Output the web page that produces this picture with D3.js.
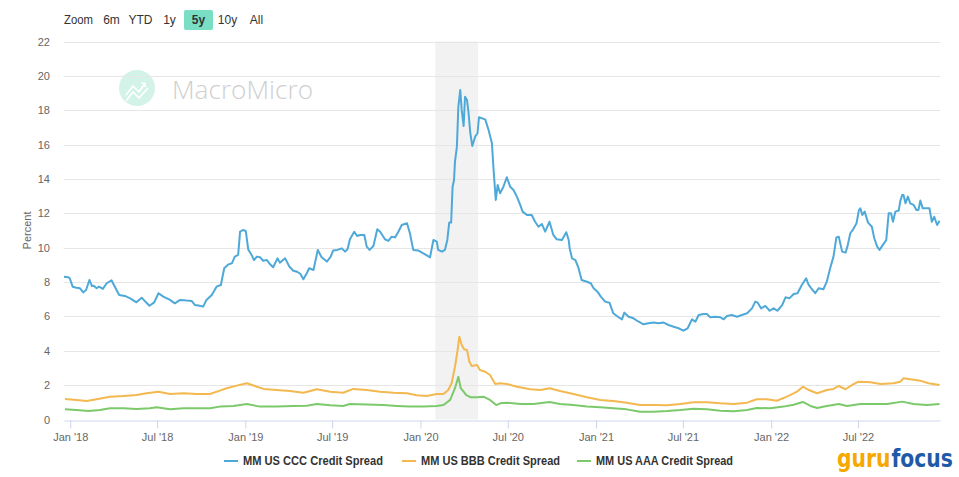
<!DOCTYPE html>
<html><head><meta charset="utf-8">
<script src="https://cdn.jsdelivr.net/npm/d3@7"></script>
<style>
html,body{margin:0;padding:0;background:#fff;}
svg{display:block;font-family:"Liberation Sans",Arial,Helvetica,sans-serif;}
</style></head>
<body><svg id="chart" width="959" height="477"></svg>
<script>
// ---------- DATA ----------
const seriesNames = ["MM US CCC Credit Spread", "MM US BBB Credit Spread", "MM US AAA Credit Spread"];
const seriesColors = ["#4fa9d8", "#f3b84f", "#7cc96c"];
const yTicks = [0,2,4,6,8,10,12,14,16,18,20,22];
const xTickDates = ["2018-01-01","2018-07-01","2019-01-01","2019-07-01","2020-01-01","2020-07-01","2021-01-01","2021-07-01","2022-01-01","2022-07-01"];
const xDomain = ["2017-12-19","2022-12-19"];
const recession = ["2020-02-01","2020-04-30"];
const zoomButtons = ["6m","YTD","1y","5y","10y","All"];
const zoomSelected = "5y";

const ccc = [
["2017-12-19",8.31],["2017-12-28",8.28],["2017-12-31",8.22],["2018-01-06",7.73],["2018-01-14",7.67],["2018-01-21",7.64],
["2018-01-28",7.40],["2018-02-03",7.54],["2018-02-10",8.12],["2018-02-15",7.77],["2018-02-19",7.79],["2018-02-25",7.64],
["2018-03-02",7.73],["2018-03-10",7.60],["2018-03-18",7.93],["2018-03-28",8.10],["2018-04-04",7.73],["2018-04-13",7.25],
["2018-04-25",7.19],["2018-05-06",7.05],["2018-05-19",6.82],["2018-05-30",7.09],["2018-06-08",6.82],["2018-06-15",6.62],
["2018-06-25",6.82],["2018-07-04",7.35],["2018-07-14",7.15],["2018-07-28",6.96],["2018-08-07",6.76],["2018-08-18",6.96],
["2018-09-01",6.92],["2018-09-11",6.90],["2018-09-18",6.66],["2018-09-28",6.62],["2018-10-05",6.57],["2018-10-12",6.96],
["2018-10-23",7.25],["2018-11-02",7.73],["2018-11-11",7.83],["2018-11-18",8.80],["2018-11-27",9.03],["2018-12-04",9.09],
["2018-12-10",9.48],["2018-12-17",9.58],["2018-12-21",10.93],["2018-12-27",11.03],["2019-01-02",10.97],["2019-01-07",9.90],
["2019-01-14",9.58],["2019-01-19",9.28],["2019-01-25",9.48],["2019-02-01",9.44],["2019-02-07",9.24],["2019-02-15",9.28],
["2019-02-21",9.05],["2019-02-28",8.86],["2019-03-09",9.38],["2019-03-14",9.13],["2019-03-25",9.38],["2019-04-03",8.89],
["2019-04-11",8.66],["2019-04-19",8.60],["2019-04-26",8.47],["2019-05-02",8.16],["2019-05-09",8.51],["2019-05-14",8.80],
["2019-05-23",8.70],["2019-06-01",9.87],["2019-06-09",9.44],["2019-06-20",9.19],["2019-06-28",9.48],["2019-07-03",9.83],
["2019-07-12",9.87],["2019-07-21",9.96],["2019-07-28",9.77],["2019-08-02",9.91],["2019-08-07",10.49],["2019-08-16",10.93],
["2019-08-22",10.68],["2019-08-28",10.74],["2019-09-06",10.74],["2019-09-11",10.06],["2019-09-17",9.87],["2019-09-25",10.10],
["2019-10-03",11.07],["2019-10-09",10.93],["2019-10-19",10.49],["2019-10-26",10.39],["2019-11-02",10.64],["2019-11-09",10.60],
["2019-11-16",10.93],["2019-11-23",11.32],["2019-12-04",11.42],["2019-12-10",10.84],["2019-12-17",9.87],["2019-12-28",9.83],
["2020-01-07",9.67],["2020-01-16",9.52],["2020-01-21",9.44],["2020-01-28",10.45],["2020-02-04",10.35],["2020-02-07",9.87],
["2020-02-15",9.77],["2020-02-21",9.87],["2020-02-26",10.45],["2020-03-01",11.46],["2020-03-05",11.46],["2020-03-08",13.55],
["2020-03-11",13.94],["2020-03-13",15.01],["2020-03-17",15.88],["2020-03-20",18.21],["2020-03-24",19.18],["2020-03-27",18.02],
["2020-03-31",17.08],["2020-04-03",18.79],["2020-04-07",18.60],["2020-04-10",17.92],["2020-04-14",16.66],["2020-04-18",15.92],
["2020-04-24",16.46],["2020-04-29",16.66],["2020-05-02",17.59],["2020-05-08",17.53],["2020-05-15",17.47],["2020-05-22",16.85],
["2020-05-29",16.08],["2020-06-01",14.72],["2020-06-06",12.78],["2020-06-10",13.65],["2020-06-15",13.17],["2020-06-22",13.55],
["2020-06-29",14.10],["2020-07-06",13.55],["2020-07-13",13.36],["2020-07-20",12.97],["2020-07-27",12.49],["2020-08-01",12.10],
["2020-08-10",11.90],["2020-08-20",11.90],["2020-08-27",11.51],["2020-09-03",11.22],["2020-09-10",11.38],["2020-09-17",10.93],
["2020-09-26",11.51],["2020-10-04",10.74],["2020-10-11",10.49],["2020-10-22",10.45],["2020-10-31",10.90],["2020-11-05",10.45],
["2020-11-07",9.96],["2020-11-12",9.38],["2020-11-19",9.28],["2020-11-25",8.86],["2020-12-02",8.12],["2020-12-13",8.02],
["2020-12-21",7.93],["2020-12-27",7.64],["2021-01-04",7.44],["2021-01-11",7.15],["2021-01-20",6.86],["2021-01-29",6.80],
["2021-02-06",6.18],["2021-02-17",5.95],["2021-02-24",5.83],["2021-03-01",6.22],["2021-03-10",5.98],["2021-03-20",5.89],
["2021-03-31",5.69],["2021-04-10",5.54],["2021-04-20",5.60],["2021-05-01",5.64],["2021-05-11",5.60],["2021-05-22",5.64],
["2021-06-01",5.50],["2021-06-12",5.40],["2021-06-22",5.31],["2021-07-02",5.17],["2021-07-11",5.31],["2021-07-20",5.83],
["2021-07-27",5.69],["2021-08-03",6.08],["2021-08-13",6.14],["2021-08-20",6.14],["2021-08-27",5.95],["2021-09-07",5.98],
["2021-09-17",5.95],["2021-09-24",5.83],["2021-10-01",6.02],["2021-10-11",6.08],["2021-10-22",5.98],["2021-11-01",6.08],
["2021-11-12",6.18],["2021-11-22",6.47],["2021-11-29",6.86],["2021-12-04",6.80],["2021-12-11",6.47],["2021-12-20",6.61],
["2021-12-29",6.33],["2022-01-06",6.47],["2022-01-14",6.33],["2022-01-24",6.66],["2022-01-31",7.11],["2022-02-08",7.05],
["2022-02-17",7.30],["2022-02-25",7.35],["2022-03-06",7.83],["2022-03-15",8.22],["2022-03-20",7.85],["2022-03-27",7.58],
["2022-04-03",7.35],["2022-04-10",7.64],["2022-04-20",7.58],["2022-04-27",8.02],["2022-05-04",8.80],["2022-05-11",9.48],
["2022-05-17",10.60],["2022-05-22",10.64],["2022-05-29",9.77],["2022-06-05",9.71],["2022-06-09",10.06],["2022-06-15",10.84],
["2022-06-21",11.07],["2022-06-28",11.42],["2022-07-03",12.19],["2022-07-06",12.29],["2022-07-10",11.90],["2022-07-15",12.10],
["2022-07-22",11.46],["2022-07-30",11.22],["2022-08-04",10.55],["2022-08-10",10.06],["2022-08-15",9.87],["2022-08-22",10.16],
["2022-08-29",10.45],["2022-09-03",12.00],["2022-09-08",12.00],["2022-09-12",11.51],["2022-09-17",12.10],["2022-09-24",12.16],
["2022-09-27",12.68],["2022-10-01",13.07],["2022-10-04",13.07],["2022-10-08",12.58],["2022-10-13",12.97],["2022-10-18",12.58],
["2022-10-25",12.49],["2022-10-31",12.19],["2022-11-04",12.19],["2022-11-08",12.74],["2022-11-13",12.29],["2022-11-22",12.29],
["2022-11-27",12.29],["2022-12-02",11.51],["2022-12-07",11.80],["2022-12-13",11.32],["2022-12-18",11.57]
];

const bbb = [
["2017-12-21",1.19],["2018-01-14",1.14],["2018-02-04",1.08],["2018-02-25",1.18],["2018-03-25",1.33],["2018-04-22",1.37],
["2018-05-19",1.43],["2018-06-09",1.53],["2018-07-04",1.62],["2018-07-28",1.48],["2018-08-25",1.53],["2018-09-22",1.48],
["2018-10-19",1.48],["2018-11-09",1.68],["2018-11-23",1.82],["2018-12-14",1.97],["2019-01-04",2.11],["2019-01-25",1.91],
["2019-02-08",1.78],["2019-03-07",1.72],["2019-04-04",1.66],["2019-05-02",1.56],["2019-05-30",1.76],["2019-06-27",1.62],
["2019-07-24",1.56],["2019-08-14",1.78],["2019-09-11",1.72],["2019-10-09",1.62],["2019-11-06",1.56],["2019-12-04",1.53],
["2019-12-24",1.41],["2020-01-14",1.37],["2020-02-04",1.48],["2020-02-18",1.48],["2020-02-28",1.72],["2020-03-06",2.11],
["2020-03-13",3.07],["2020-03-18",3.95],["2020-03-22",4.82],["2020-03-27",4.34],["2020-04-01",4.09],["2020-04-07",4.05],
["2020-04-12",3.36],["2020-04-17",3.11],["2020-04-28",3.17],["2020-05-04",2.88],["2020-05-15",2.78],["2020-05-25",2.59],
["2020-06-05",2.07],["2020-06-15",2.11],["2020-06-29",2.07],["2020-07-20",1.91],["2020-08-17",1.76],["2020-09-07",1.72],
["2020-09-26",1.82],["2020-10-18",1.66],["2020-11-15",1.48],["2020-12-13",1.29],["2021-01-10",1.14],["2021-02-06",1.08],
["2021-03-06",0.98],["2021-04-03",0.84],["2021-05-01",0.84],["2021-05-29",0.83],["2021-06-26",0.90],["2021-07-23",1.00],
["2021-08-20",1.00],["2021-09-17",0.94],["2021-10-15",0.90],["2021-11-12",0.98],["2021-12-02",1.18],["2021-12-23",1.18],
["2022-01-13",1.09],["2022-02-03",1.33],["2022-02-24",1.62],["2022-03-08",1.91],["2022-03-20",1.72],["2022-04-07",1.53],
["2022-04-27",1.72],["2022-05-11",1.78],["2022-05-22",1.95],["2022-06-05",1.76],["2022-06-19",2.01],["2022-07-02",2.20],
["2022-07-27",2.17],["2022-08-17",2.07],["2022-09-13",2.11],["2022-09-27",2.20],["2022-10-04",2.40],["2022-10-18",2.34],
["2022-11-08",2.26],["2022-11-25",2.11],["2022-12-18",2.01]
];

const aaa = [
["2017-12-21",0.59],["2018-01-14",0.55],["2018-02-08",0.49],["2018-03-04",0.55],["2018-03-25",0.65],["2018-04-22",0.65],
["2018-05-19",0.61],["2018-06-16",0.65],["2018-06-30",0.71],["2018-07-28",0.59],["2018-08-25",0.65],["2018-09-22",0.65],
["2018-10-19",0.65],["2018-11-09",0.75],["2018-12-07",0.79],["2019-01-04",0.90],["2019-02-01",0.75],["2019-03-07",0.75],
["2019-04-11",0.79],["2019-05-09",0.80],["2019-05-30",0.90],["2019-06-27",0.83],["2019-07-24",0.79],["2019-08-07",0.90],
["2019-09-11",0.88],["2019-10-16",0.84],["2019-11-13",0.79],["2019-12-10",0.75],["2020-01-07",0.75],["2020-02-04",0.79],
["2020-02-18",0.84],["2020-03-03",1.14],["2020-03-13",1.82],["2020-03-20",2.49],["2020-03-25",1.82],["2020-03-31",1.62],
["2020-04-05",1.43],["2020-04-15",1.29],["2020-04-28",1.29],["2020-05-11",1.33],["2020-05-25",1.14],["2020-06-07",0.84],
["2020-06-15",0.94],["2020-06-29",0.98],["2020-07-27",0.90],["2020-08-24",0.90],["2020-09-26",1.02],["2020-10-18",0.90],
["2020-11-15",0.84],["2020-12-13",0.75],["2021-01-10",0.71],["2021-02-06",0.65],["2021-03-06",0.59],["2021-04-03",0.45],
["2021-05-01",0.45],["2021-05-29",0.49],["2021-06-26",0.55],["2021-07-23",0.63],["2021-08-20",0.59],["2021-09-17",0.51],
["2021-10-15",0.48],["2021-11-12",0.55],["2021-12-02",0.67],["2021-12-30",0.65],["2022-01-27",0.75],["2022-02-17",0.86],
["2022-03-08",1.02],["2022-03-24",0.79],["2022-04-07",0.67],["2022-04-27",0.79],["2022-05-22",0.90],["2022-06-08",0.79],
["2022-07-06",0.90],["2022-08-03",0.90],["2022-08-31",0.90],["2022-10-01",1.04],["2022-10-25",0.90],["2022-11-22",0.84],
["2022-12-18",0.90]
];

// ---------- CHART ----------
const parse = d3.timeParse("%Y-%m-%d");
const svg = d3.select("#chart");
const W = 959, H = 477;
const m = {left: 64, right: 19, top: 41.5, bottom: 57.5};
const x = d3.scaleTime().domain(xDomain.map(parse)).range([m.left, W - m.right]);
const y = d3.scaleLinear().domain([0, 22]).range([H - m.bottom, m.top]);

// zoom buttons
const zb = svg.append("g").attr("font-size", 12).attr("fill", "#333");
zb.append("text").attr("x", 64).attr("y", 24).attr("textLength", 29).attr("lengthAdjust", "spacingAndGlyphs").text("Zoom");
const btnX = [111.5, 140.5, 169.5, 198.5, 227.5, 256.5];
zoomButtons.forEach((b, i) => {
  if (b === zoomSelected) {
    zb.append("rect").attr("x", btnX[i] - 14.5).attr("y", 10).attr("width", 29).attr("height", 20)
      .attr("rx", 2).attr("fill", "#79dec4");
  }
  zb.append("text").attr("x", btnX[i]).attr("y", 24).attr("text-anchor", "middle")
    .attr("font-weight", b === zoomSelected ? "bold" : "normal").text(b);
});

// watermark
const wm = svg.append("g");
wm.append("circle").attr("cx", 137).attr("cy", 88).attr("r", 18).attr("fill", "#d3f3e8");
wm.append("path").attr("d", "M126,95 L133,86 L139,92 L145,83 M141,83 L145,83 L145,87 M126,101 L133,92 L139,98 L148,88")
  .attr("fill", "none").attr("stroke", "#fff").attr("stroke-width", 1.6).attr("stroke-linejoin", "round");
wm.append("text").attr("x", 172).attr("y", 99).attr("font-size", 26).attr("fill", "#cfcfcf")
  .attr("font-family", "'Open Sans', sans-serif").attr("font-weight", 300)
  .attr("textLength", 141).attr("lengthAdjust", "spacingAndGlyphs").text("MacroMicro");

// recession band
svg.append("rect").attr("x", x(parse(recession[0]))).attr("y", m.top)
  .attr("width", x(parse(recession[1])) - x(parse(recession[0]))).attr("height", y(0) - m.top)
  .attr("fill", "#f2f2f2");

// gridlines
svg.append("g").selectAll("line").data(yTicks.filter(d => d > 0)).join("line")
  .attr("x1", m.left).attr("x2", W - m.right)
  .attr("y1", d => Math.round(y(d)) + 0.5).attr("y2", d => Math.round(y(d)) + 0.5)
  .attr("stroke", "#e6e6e6").attr("stroke-width", 1);

// y labels
svg.append("g").selectAll("text").data(yTicks).join("text")
  .attr("x", 50).attr("y", d => y(d) + 4).attr("text-anchor", "end")
  .attr("font-size", 11).attr("fill", "#666").text(d => d);
svg.append("text").attr("transform", `translate(31,${(m.top + y(0)) / 2}) rotate(-90)`)
  .attr("text-anchor", "middle").attr("font-size", 11).attr("fill", "#666").text("Percent");

// x axis
const xAxis = d3.axisBottom(x).tickValues(xTickDates.map(parse))
  .tickFormat(d => d3.timeFormat("%b '%y")(d)).tickSize(8).tickPadding(5).tickSizeOuter(0);
const gx = svg.append("g").attr("transform", `translate(0,${Math.round(y(0)) + 0.5})`).call(xAxis);
gx.select(".domain").attr("stroke", "#ccd6eb");
gx.selectAll(".tick line").attr("stroke", "#ccd6eb");
gx.selectAll(".tick text").attr("fill", "#666").attr("font-size", 11)
  .attr("font-family", "'Liberation Sans',Arial,sans-serif");

// lines
const line = d3.line().x(d => x(parse(d[0]))).y(d => y(d[1]));
[ccc, bbb, aaa].forEach((s, i) => {
  svg.append("path").datum(s).attr("d", line).attr("fill", "none")
    .attr("stroke", seriesColors[i]).attr("stroke-width", 2).attr("stroke-linejoin", "round");
});

// legend
const legX = [224, 402, 577];
const legW = [140, 139, 137];
const lg = svg.append("g");
seriesNames.forEach((n, i) => {
  lg.append("line").attr("x1", legX[i]).attr("x2", legX[i] + 14).attr("y1", 461).attr("y2", 461)
    .attr("stroke", seriesColors[i]).attr("stroke-width", 2);
  lg.append("text").attr("x", legX[i] + 19).attr("y", 465).attr("font-size", 12)
    .attr("font-weight", "bold").attr("fill", "#333")
    .attr("textLength", legW[i]).attr("lengthAdjust", "spacingAndGlyphs").text(n);
});

// gurufocus logo: two texts, squeezed horizontally with a transform
const logo = svg.append("g");
const gFont = "'DejaVu Sans Condensed','DejaVu Sans',sans-serif";
const t1 = logo.append("text").attr("x", 0).attr("y", 0).attr("font-size", 24).attr("font-weight", "bold")
  .attr("font-family", gFont).attr("fill", "#f6a800").text("guru");
const w1 = t1.node().getComputedTextLength();
const t2 = logo.append("text").attr("x", w1 + 1).attr("y", 0).attr("font-size", 24).attr("font-weight", "bold")
  .attr("font-family", gFont).attr("fill", "#1f5aa8").text("focus");
const w2 = t2.node().getComputedTextLength();
const sx = 116 / (w1 + 1 + w2);
logo.attr("transform", `translate(837,467) scale(${sx},1)`);
</script></body></html>
